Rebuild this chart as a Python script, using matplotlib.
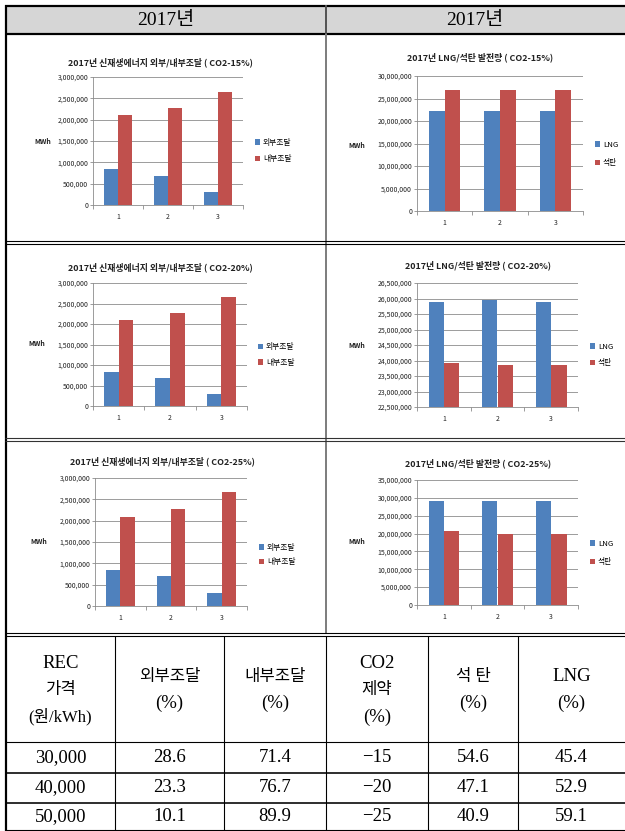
import numpy as np
import matplotlib
matplotlib.use('Agg')
import matplotlib.pyplot as plt
from matplotlib.patches import Rectangle
from matplotlib.ticker import FuncFormatter, MultipleLocator

plt.rcParams['font.family'] = ['Noto Sans CJK KR', 'DejaVu Sans']

W, H = 625, 831

# values
categories = ['1', '2', '3']

ext_15 = [850000, 680000, 300000]
int_15 = [2100000, 2280000, 2660000]
ext_20 = [840000, 690000, 300000]
int_20 = [2090000, 2270000, 2670000]
ext_25 = [840000, 700000, 300000]
int_25 = [2090000, 2270000, 2670000]

lng_15 = [22200000, 22200000, 22200000]
coal_15 = [26800000, 26800000, 26800000]
lng_20 = [25890000, 25940000, 25890000]
coal_20 = [23930000, 23870000, 23870000]
lng_25 = [29000000, 29000000, 29000000]
coal_25 = [20800000, 19950000, 19950000]

supply_names = ['외부조달', '내부조달']
power_names = ['LNG', '석탄']

table_header = [['REC', '가격', '(원/kWh)'], ['외부조달', '(%)'], ['내부조달', '(%)'],
                ['CO2', '제약', '(%)'], ['석 탄', '(%)'], ['LNG', '(%)']]
rec_price = ['30,000', '40,000', '50,000']
ext_pct = ['28.6', '23.3', '10.1']
int_pct = ['71.4', '76.7', '89.9']
co2_limit = ['\u221215', '\u221220', '\u221225']
coal_pct = ['54.6', '47.1', '40.9']
lng_pct = ['45.4', '52.9', '59.1']

BLUE = '#4F81BD'
RED = '#C0504D'
GRID = '#8c8c8c'
SERIF = ['Liberation Serif', 'Noto Sans CJK KR']

fig = plt.figure(figsize=(W / 100, H / 100), dpi=100, facecolor='white')

# background axes in pixel units for frame lines and table
bg = fig.add_axes([0, 0, 1, 1])
bg.set_xlim(0, W)
bg.set_ylim(H, 0)
bg.axis('off')


def px_rect(x0, y0, x1, y1):
    return [x0 / W, 1 - y1 / H, (x1 - x0) / W, (y1 - y0) / H]


def hline(y, x0, x1, color='black', lw=1.0):
    bg.plot([x0, x1], [y, y], color=color, lw=lw * 0.72, solid_capstyle='butt')


def vline(x, y0, y1, color='black', lw=1.0):
    bg.plot([x, x], [y0, y1], color=color, lw=lw * 0.72, solid_capstyle='butt')


def bar_chart(box, a, b, names, ylim, step, title, title_xy, leg_xy, leg_gap, mwh_xy):
    ax = fig.add_axes(px_rect(*box))
    x = np.arange(len(categories))
    w = 1 / 3.5
    ax.bar(x - w / 2, a, w, color=BLUE, label=names[0])
    ax.bar(x + w / 2, b, w, color=RED, label=names[1])
    ax.set_xlim(-0.5, len(categories) - 0.5)
    ax.set_ylim(*ylim)
    ax.yaxis.set_major_locator(MultipleLocator(step))
    ax.yaxis.set_major_formatter(FuncFormatter(lambda v, p: f'{v:,.0f}'))
    ax.set_xticks(x)
    ax.set_xticklabels(categories)
    ax.set_xticks(np.arange(len(categories) + 1) - 0.5, minor=True)
    ax.grid(axis='y', color=GRID, lw=0.6)
    ax.set_axisbelow(True)
    for s in ['top', 'right']:
        ax.spines[s].set_visible(False)
    for s in ['left', 'bottom']:
        ax.spines[s].set_color(GRID)
        ax.spines[s].set_linewidth(0.6)
    ax.tick_params(axis='y', length=2, width=0.6, color=GRID, labelsize=5, pad=1.5,
                   labelcolor='#222222')
    ax.tick_params(axis='x', which='major', length=0, labelsize=5, pad=6,
                   labelcolor='#222222')
    ax.tick_params(axis='x', which='minor', length=3, width=0.6, color=GRID)
    bg.text(title_xy[0], title_xy[1], title, ha='center', va='center',
            fontsize=6.4, fontweight='bold', color='#222222')
    bg.text(mwh_xy[0], mwh_xy[1], 'MWh', ha='left', va='center',
            fontsize=5, fontweight='bold', color='#222222')
    ax.legend(loc='center left', bbox_to_anchor=leg_xy, bbox_transform=bg.transData,
              frameon=False, fontsize=5.6, handlelength=0.7, handleheight=0.7,
              handletextpad=0.3, borderpad=0, borderaxespad=0,
              labelspacing=leg_gap / 7.8 - 1)
    return ax


# header row
bg.add_patch(Rectangle((6, 6), W - 6, 28, fc='#D6D6D6', ec='none'))
for cx in [166, 475]:
    bg.text(cx, 20, '2017년', ha='center', va='center', fontsize=14, family=SERIF)

# frame lines
hline(6, 5, W, lw=2.2)
hline(34, 5, W, lw=2.2)
vline(6, 5, H, lw=2.2)
vline(326, 34, 633, color='#7f7f7f', lw=2)
vline(326, 5, 34, color='#555555', lw=2)
for y, c in [(241, 'black'), (243.5, 'black'), (438, '#333333'), (440.5, '#333333'),
             (633, 'black'), (636, 'black')]:
    hline(y, 5, W, color=c, lw=1.1)

# charts
bar_chart((93, 77, 243, 205), ext_15, int_15, supply_names, (0, 3000000), 500000,
          '2017년 신재생에너지 외부/내부조달 ( CO2-15%)', (160, 62), (255, 151), 16, (34, 142))
bar_chart((417, 76, 583, 211), lng_15, coal_15, power_names, (0, 30000000), 5000000,
          '2017년 LNG/석탄 발전량 ( CO2-15%)', (480, 57), (595, 154), 18, (348, 145))
bar_chart((93, 283, 247, 406), ext_20, int_20, supply_names, (0, 3000000), 500000,
          '2017년 신재생에너지 외부/내부조달 ( CO2-20%)', (160, 267), (258, 355), 15, (28, 344))
bar_chart((417, 283, 578, 407), lng_20, coal_20, power_names, (22500000, 26500000), 500000,
          '2017년 LNG/석탄 발전량 ( CO2-20%)', (478, 265), (590, 355), 16, (348, 345))
bar_chart((95, 478, 247, 606), ext_25, int_25, supply_names, (0, 3000000), 500000,
          '2017년 신재생에너지 외부/내부조달 ( CO2-25%)', (162, 461), (259, 555), 14, (30, 542))
bar_chart((417, 480, 578, 605), lng_25, coal_25, power_names, (0, 35000000), 5000000,
          '2017년 LNG/석탄 발전량 ( CO2-25%)', (478, 463), (590, 553), 18, (348, 542))

# table
col_edges = [6, 115, 224, 326, 428, 518, W]
row_edges = [636, 742, 773, 803, 830]
for xe in col_edges[1:-1]:
    vline(xe, 636, 830, lw=1.1)
for ye, lw in zip(row_edges[1:], [1.1, 1.6, 1.6, 1.1]):
    hline(ye, 5, W, lw=lw)

centers = [(col_edges[i] + col_edges[i + 1]) / 2 for i in range(len(col_edges) - 1)]


def has_hangul(s):
    return any('\uac00' <= ch <= '\ud7a3' for ch in s)


for cx, lines in zip(centers, table_header):
    gap = 27
    y0 = 690 - gap * (len(lines) - 1) / 2
    for k, line in enumerate(lines):
        bg.text(cx, y0 + k * gap, line, ha='center', va='center',
                fontsize=12 if has_hangul(line) else 13.5, family=SERIF)

columns = [rec_price, ext_pct, int_pct, co2_limit, coal_pct, lng_pct]
for cx, col in zip(centers, columns):
    for r, val in enumerate(col):
        cy = (row_edges[r + 1] + row_edges[r + 2]) / 2
        bg.text(cx, cy, val, ha='center', va='center', fontsize=13.5, family=SERIF)

fig.savefig('out.png', dpi=100, facecolor='white')
